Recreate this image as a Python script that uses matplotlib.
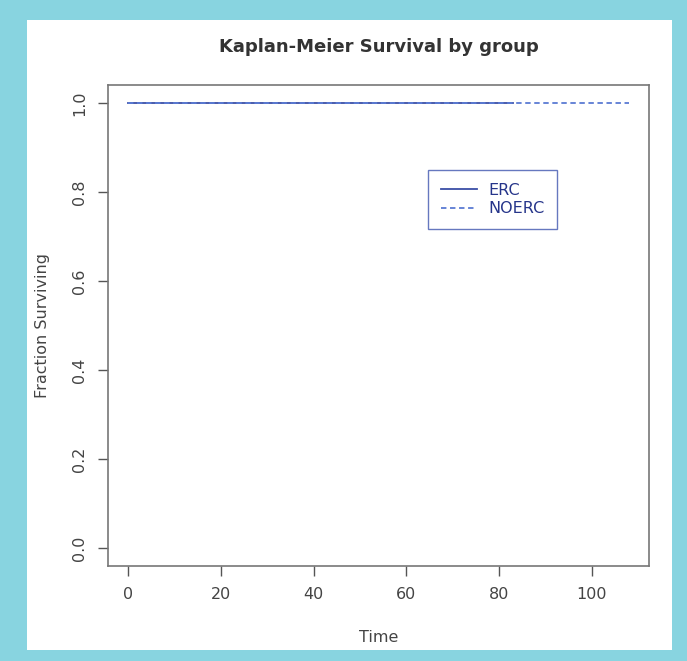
import matplotlib.pyplot as plt
import matplotlib.patches as patches

# survival curves (no events, all stay at 1.0)
erc_time = [0, 83]
erc_surv = [1.0, 1.0]
noerc_time = [0, 108]
noerc_surv = [1.0, 1.0]

x_ticks = [0, 20, 40, 60, 80, 100]
y_ticks = [0.0, 0.2, 0.4, 0.6, 0.8, 1.0]

fig = plt.figure(figsize=(6.87, 6.61), dpi=100)
fig.patch.set_facecolor('#88d4e0')
# white panel inside blue frame
fig.add_artist(patches.Rectangle((27/687, 11/661), 645/687, 630/661,
                                 transform=fig.transFigure, facecolor='white',
                                 edgecolor='none', zorder=-10))

ax = fig.add_axes([108/687, 95/661, 541/687, 481/661])
ax.set_zorder(5)
ax.step(erc_time, erc_surv, where='post', color='#3a4ea6', lw=1.3, label='ERC')
ax.step(noerc_time, noerc_surv, where='post', color='#5b7bd3', lw=1.3,
        linestyle=(0, (3, 2)), label='NOERC')

ax.set_xlim(-4.32, 112.32)
ax.set_ylim(-0.04, 1.04)
ax.set_xticks(x_ticks)
ax.set_yticks(y_ticks)
ax.set_yticklabels([f'{v:.1f}' for v in y_ticks], rotation=90, va='center')
ax.tick_params(direction='out', length=7, width=1, color='#555555',
               labelcolor='#444444', labelsize=11.5, pad=8)
for s in ax.spines.values():
    s.set_color('#777777')
    s.set_linewidth(1.2)

ax.set_title('Kaplan-Meier Survival by group', fontsize=13, fontweight='bold',
             color='#333333', pad=24)
ax.set_xlabel('Time', fontsize=11.5, color='#444444', labelpad=20)
ax.set_ylabel('Fraction Surviving', fontsize=11.5, color='#444444', labelpad=16)

leg = ax.legend(loc='upper left', bbox_to_anchor=(0.591, 0.823), fancybox=False,
                borderaxespad=0, edgecolor='#4056b0', fontsize=11.5,
                handlelength=2.3, handletextpad=0.7, borderpad=0.8,
                labelspacing=0.2)
leg.get_frame().set_linewidth(1.0)
for t in leg.get_texts():
    t.set_color('#26358a')

fig.savefig('out.png', dpi=100, facecolor=fig.get_facecolor())
